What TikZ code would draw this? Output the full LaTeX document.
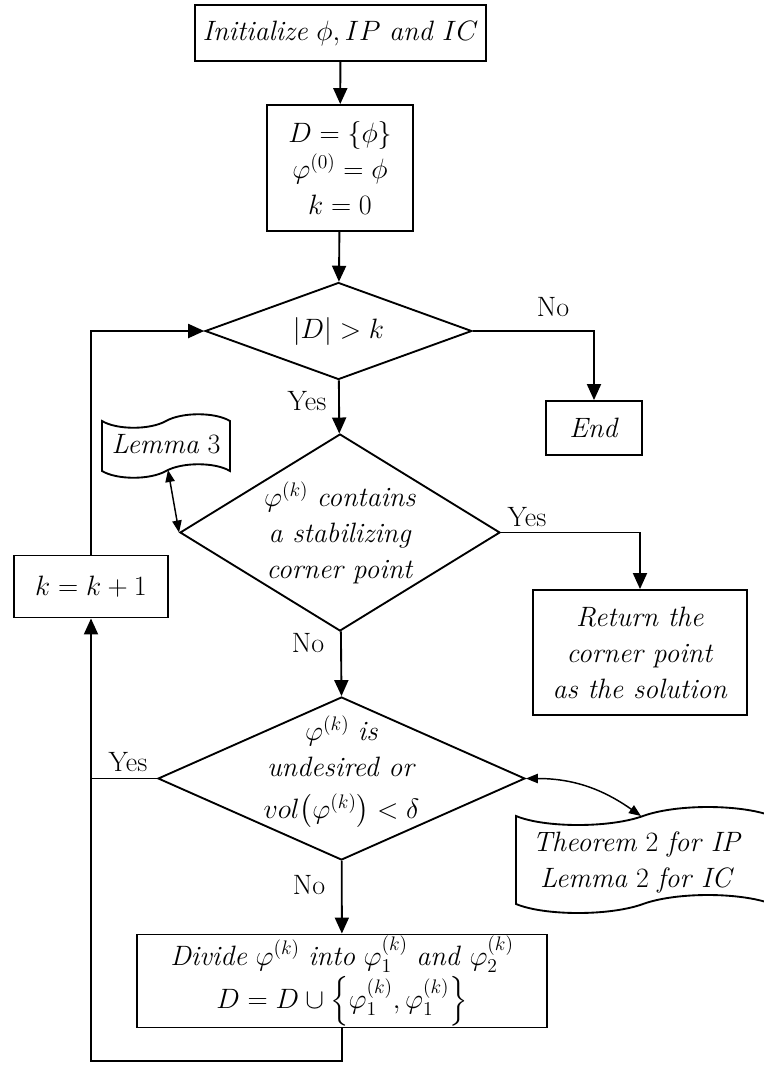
\RequirePackage{fix-cm}
\documentclass[tikz,border=0pt]{standalone}
\usepackage{amsmath}
\usepackage{fontspec}
\usetikzlibrary{arrows.meta,shapes.geometric}

\begin{document}
\begin{tikzpicture}[x=0.75pt, y=-0.75pt,
    font=\fontsize{21}{27}\selectfont, line width=1.4pt,
    procbox/.style={rectangle, draw, align=center, inner sep=1pt},
    decide/.style={diamond, draw, aspect=1, inner sep=0pt},
    arr/.style={-{Triangle[length=12pt,width=10.5pt]}},
    dblarr/.style={{Triangle[length=9pt,width=7pt]}-{Triangle[length=9pt,width=7pt]}, line width=1.1pt},
    lbl/.style={inner sep=0pt}]
  \useasboundingbox (0,0) rectangle (764,1065);

  % main column
  \node[procbox, minimum width=218pt, minimum height=42pt] (init) at (340.5,33)
    {\textit{Initialize} $\phi, IP$ \textit{and} $IC$};
  \node[procbox, minimum width=109.5pt, minimum height=94.5pt] (setup) at (340,168)
    {$D=\{\phi\}$\\ $\varphi^{(0)}=\phi$\\ $k=0$};
  \node[decide, minimum width=200pt, minimum height=72.75pt] (size) at (338.5,331) {};
  \node[lbl] (sizetxt) at (size) {$|D|>k$};
  \node[procbox, minimum width=72pt, minimum height=40.5pt] (stop) at (594,428) {\textit{End}};
  \node[decide, minimum width=240pt, minimum height=147.75pt] (stab) at (340,532.5) {};
  \node[lbl, align=center] (stabtxt) at (stab)
    {$\varphi^{(k)}$ \textit{contains}\\ \textit{a stabilizing}\\ \textit{corner point}};
  \node[procbox, minimum width=160.5pt, minimum height=93.75pt] (ret) at (640,652.5)
    {\textit{Return the}\\ \textit{corner point}\\ \textit{as the solution}};
  \node[decide, minimum width=275.25pt, minimum height=122.25pt] (undes) at (341.5,778.5) {};
  \node[lbl, align=center] (undestxt) at (341.5,772)
    {$\varphi^{(k)}$ \textit{is}\\ \textit{undesired or}\\[4pt] $vol\bigl(\varphi^{(k)}\bigr)<\delta$};
  \node[procbox, minimum width=307.5pt, minimum height=69pt] (divide) at (342,981)
    {\textit{Divide} $\varphi^{(k)}$ \textit{into} $\varphi_1^{(k)}$ \textit{and} $\varphi_2^{(k)}$\\[2pt]
     $D=D\cup\left\{\varphi_1^{(k)},\varphi_1^{(k)}\right\}$};
  \node[procbox, minimum width=115.5pt, minimum height=46.5pt] (incr) at (91,586.5) {$k=k+1$};
  \coordinate (backrow) at (0,1061);

  % references (wavy documents)
  \draw (102,421) .. controls (117,430) and (150,430) .. (166,421)
        .. controls (182,412) and (215,412) .. (230,421) -- (230,471)
        .. controls (215,462) and (182,462) .. (166,471)
        .. controls (150,480) and (117,480) .. (102,471) -- cycle;
  \node[lbl] (lemma) at (166,444) {\textit{Lemma} 3};
  \coordinate (lemtip) at (168,470);
  \draw (516,816) .. controls (545,828) and (610,828) .. (643,816)
        .. controls (676,804) and (740,804) .. (772,816) -- (772,904)
        .. controls (740,892) and (676,892) .. (643,904)
        .. controls (610,916) and (545,916) .. (516,904) -- cycle;
  \node[lbl, align=center] (thm) at (637,862)
    {\textit{Theorem} 2 \textit{for IP}\\ \textit{Lemma} 2 \textit{for IC}};
  \coordinate (thmtip) at (641,816);

  % flow
  \draw[arr] (init) -- (setup);
  \draw[arr] (setup) -- (size);
  \draw[arr] (size.east) -| (stop.north);
  \draw[arr] (size) -- (stab);
  \draw[arr] (stab.east) -| (ret.north);
  \draw[arr] (stab) -- (undes.north);
  \draw[arr] (undes) -- (divide);
  \draw (undes.west) -- (undes.west -| incr.south);
  \draw[arr] (divide.south) -- (divide.south |- backrow) -| (incr.south);
  \draw[arr] (incr.north) |- (size.west);
  \draw[dblarr] (lemtip) -- (stab.west);
  \draw[dblarr] (undes.east) to[out=0, in=145] (thmtip);

  % branch labels
  \node[lbl] (no1) at (553,307) {No};
  \node[lbl] (yes1) at (307,401) {Yes};
  \node[lbl] (yes2) at (527,517) {Yes};
  \node[lbl] (no2) at (308,643) {No};
  \node[lbl] (yes3) at (128,762) {Yes};
  \node[lbl] (no3) at (309,885) {No};
\end{tikzpicture}
\end{document}
